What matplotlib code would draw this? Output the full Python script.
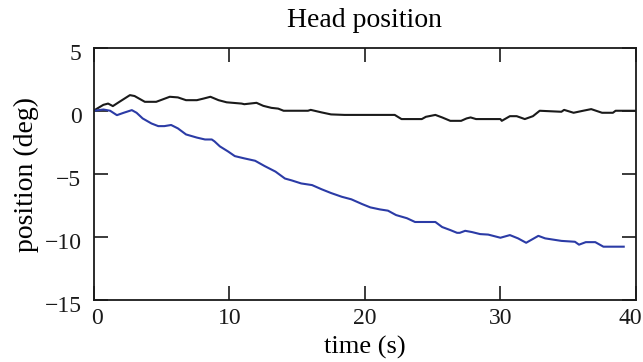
import matplotlib
matplotlib.use("Agg")
import matplotlib.pyplot as plt
import matplotlib.transforms as mtransforms

# Black trace (time s, position deg)
black_t = [0.0, 0.7, 1.05, 1.4, 1.9, 2.66, 3.0, 3.76, 4.6, 5.6, 6.2, 6.8, 7.6, 8.1, 8.6, 9.2, 9.8,
           10.9, 11.1, 12.0, 12.5, 13.1, 13.6, 14.0, 15.8, 16.0, 16.8, 17.5, 18.5, 19.6, 20.0,
           22.2, 22.7, 24.2, 24.5, 25.2, 25.7, 26.3, 27.1, 27.5, 27.8, 28.2, 30.0, 30.1, 30.7,
           31.2, 31.8, 32.4, 32.9, 34.5, 34.7, 35.4, 36.1, 36.7, 37.5, 38.3, 38.5, 39.7, 40.0]
black_v = [0.05, 0.5, 0.6, 0.4, 0.75, 1.27, 1.2, 0.74, 0.74, 1.14, 1.09, 0.87, 0.87, 1.0, 1.14, 0.87, 0.7,
           0.6, 0.55, 0.66, 0.42, 0.26, 0.2, 0.03, 0.03, 0.1, -0.1, -0.26, -0.3, -0.3, -0.3,
           -0.3, -0.63, -0.63, -0.45, -0.3, -0.5, -0.77, -0.77, -0.58, -0.5, -0.63, -0.63, -0.77, -0.4,
           -0.4, -0.63, -0.4, 0.03, -0.05, 0.1, -0.13, 0.03, 0.16, -0.13, -0.13, 0.03, 0.03, 0.03]

# Blue trace
blue_t = [0.0, 0.7, 1.2, 1.7, 2.2, 2.8, 3.15, 3.6, 4.25, 4.75, 5.2, 5.7, 6.2, 6.8, 7.6, 8.2, 8.7, 8.9,
          9.3, 9.9, 10.4, 11.1, 11.9, 12.6, 13.4, 14.1, 14.6, 15.3, 16.1, 16.8, 17.5, 18.3, 19.0,
          19.8, 20.4, 21.1, 21.7, 22.3, 23.1, 23.7, 25.2, 25.7, 26.3, 26.8, 27.0, 27.4, 27.9, 28.5,
          29.1, 30.0, 30.7, 31.3, 31.9, 32.8, 33.3, 33.9, 34.5, 35.5, 35.8, 36.3, 37.0, 37.6, 39.1]
blue_v = [0.03, 0.13, 0.03, -0.32, -0.13, 0.08, -0.13, -0.58, -0.98, -1.19, -1.19, -1.1, -1.37, -1.85,
          -2.1, -2.25, -2.25, -2.4, -2.8, -3.2, -3.57, -3.75, -3.94, -4.36, -4.8, -5.35, -5.5, -5.74,
          -5.87, -6.2, -6.5, -6.8, -7.0, -7.38, -7.64, -7.8, -7.9, -8.25, -8.5, -8.8, -8.8, -9.2,
          -9.44, -9.66, -9.66, -9.5, -9.6, -9.76, -9.8, -10.05, -9.84, -10.1, -10.45, -9.9, -10.1,
          -10.2, -10.3, -10.37, -10.6, -10.4, -10.4, -10.76, -10.76]

x_ticks = [0, 10, 20, 30, 40]
y_ticks = [-15, -10, -5, 0, 5]
y_tick_labels = ["\u221215", "\u221210", "\u22125", "0", "5"]

plt.rcParams['font.family'] = ['Liberation Serif', 'DejaVu Serif']

fig = plt.figure(figsize=(6.43, 3.62), dpi=100)
ax = fig.add_axes([0.146, 0.171, 0.843, 0.696])
ax.plot(black_t, black_v, color='#1a1a1a', lw=1.5)
ax.plot(blue_t, blue_v, color='#2b3ba6', lw=1.5)

ax.set_xlim(0, 40)
ax.set_ylim(-15, 5)
ax.set_xticks(x_ticks)
ax.set_yticks(y_ticks)
ax.set_yticklabels(y_tick_labels)
ax.tick_params(direction='in', length=10, width=1.2, top=True, right=True,
               labelsize=17, colors='#1a1a1a')
ax.tick_params(axis='x', pad=6)
ax.tick_params(axis='y', pad=9)
for s in ax.spines.values():
    s.set_linewidth(1.3)
    s.set_color('#1a1a1a')

# label offsets as in the reference
last = ax.get_xticklabels()[-1]
last.set_transform(last.get_transform() + mtransforms.ScaledTranslation(-6 / 100, 0, fig.dpi_scale_trans))
first = ax.get_xticklabels()[0]
first.set_transform(first.get_transform() + mtransforms.ScaledTranslation(3 / 100, 0, fig.dpi_scale_trans))
for lab in ax.get_yticklabels():
    lab.set_transform(lab.get_transform() + mtransforms.ScaledTranslation(0, -4 / 100, fig.dpi_scale_trans))

ax.set_title('Head position', fontsize=20, pad=15)
ax.set_xlabel('time (s)', fontsize=19, labelpad=5)
ax.set_ylabel('position (deg)', fontsize=20, labelpad=4)

fig.savefig('out.png', dpi=100)
